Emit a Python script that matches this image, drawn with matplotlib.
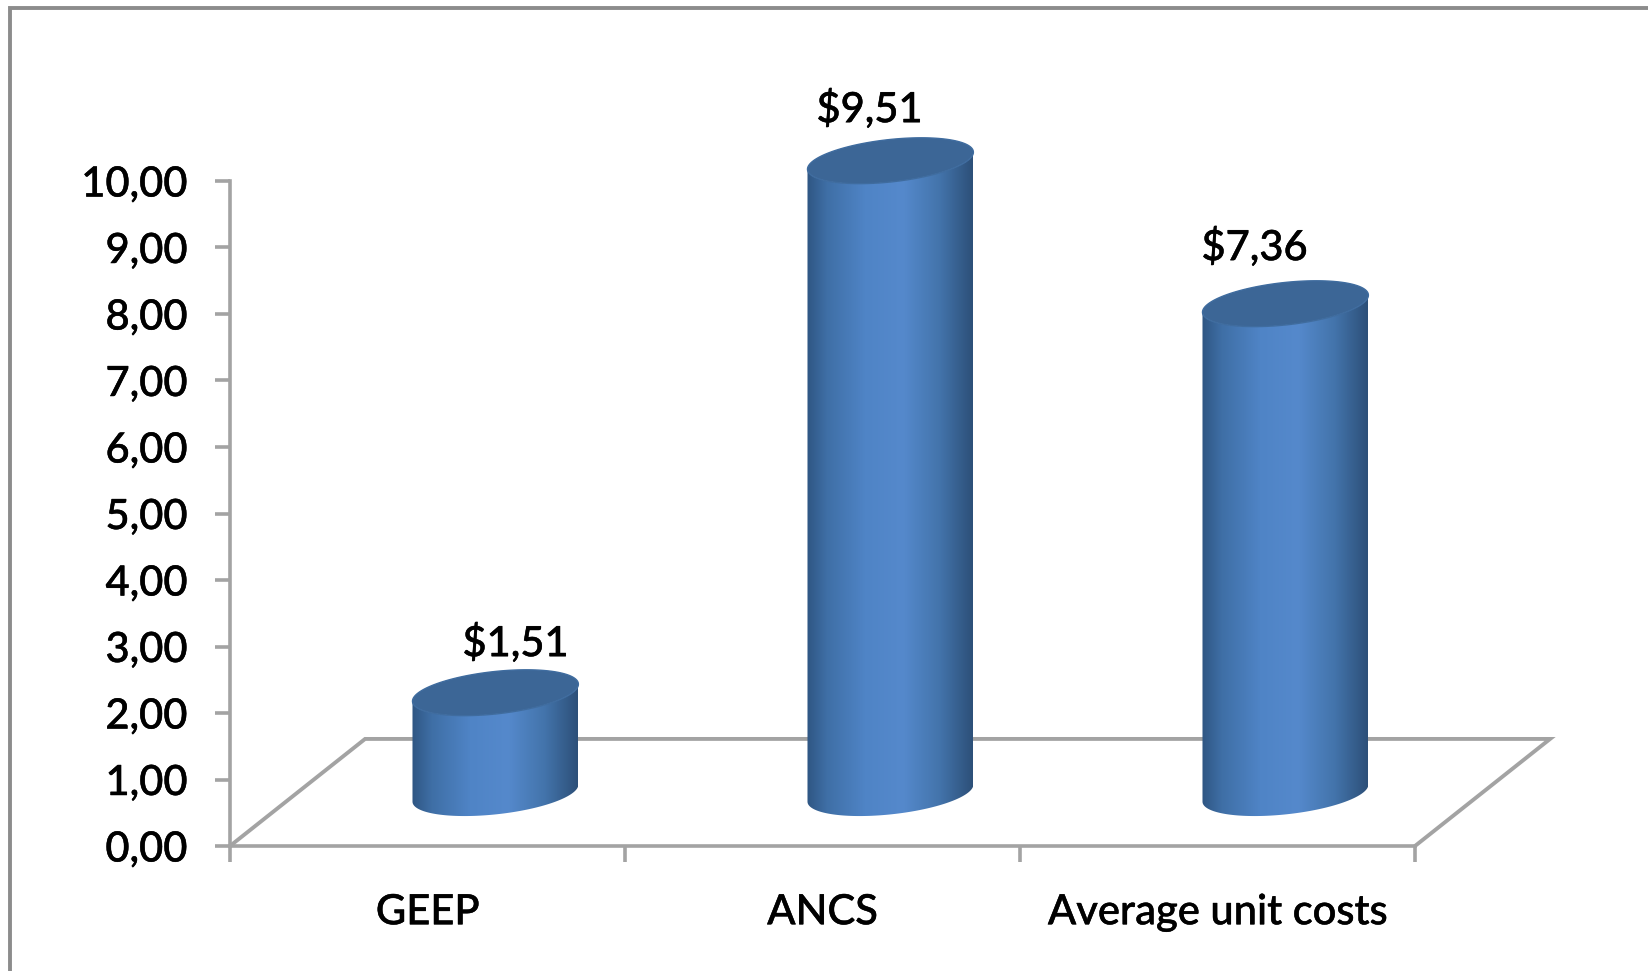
import matplotlib
matplotlib.use('Agg')
import matplotlib.pyplot as plt
import matplotlib.patheffects as pe
import numpy as np
from matplotlib.patches import PathPatch, Polygon, Rectangle
from matplotlib.path import Path

categories = ['GEEP', 'ANCS', 'Average unit costs']
costs = [1.51, 9.51, 7.36]
value_labels = ['$1,51', '$9,51', '$7,36']
y_ticks = [0, 1, 2, 3, 4, 5, 6, 7, 8, 9, 10]
y_tick_labels = ['0,00', '1,00', '2,00', '3,00', '4,00', '5,00', '6,00', '7,00', '8,00', '9,00', '10,00']

plt.rcParams['font.family'] = ['Lato', 'DejaVu Sans']
plt.rcParams['font.weight'] = 500

W, H = 1648, 971
fig = plt.figure(figsize=(W / 100, H / 100), dpi=100)
ax = fig.add_axes([230 / W, 1 - 846 / H, (1415 - 230) / W, (846 - 181) / H])
ax.set_xlim(-0.5, 2.5)
ax.set_ylim(0, 10)

GREY = '#a3a3a3'
# thickens the text a little, the original labels are heavy
heavy = [pe.withStroke(linewidth=0.35, foreground='black')]

# outer frame of the picture
fig.add_artist(Rectangle((10 / W, -0.05), 1.1, 1 - 8 / H + 0.05, transform=fig.transFigure,
                         fill=False, ec='#8c8c8c', lw=2.8))

for s in ['top', 'right']:
    ax.spines[s].set_visible(False)
for s in ['left', 'bottom']:
    ax.spines[s].set_color(GREY)
    ax.spines[s].set_linewidth(2.6)

ax.set_yticks(y_ticks)
ax.set_yticklabels(y_tick_labels, fontsize=30, color='black', path_effects=heavy)
ax.tick_params(axis='y', length=10.5, width=2.6, color=GREY, pad=20)

# ticks between the categories, labels in the middle
ax.set_xticks([-0.5, 0.5, 1.5, 2.5])
ax.set_xticklabels([])
ax.set_xticks([0, 1, 2], minor=True)
ax.set_xticklabels(categories, minor=True, fontsize=30, color='black', path_effects=heavy)
ax.tick_params(axis='x', which='major', length=11.5, width=2.6, color=GREY)
ax.tick_params(axis='x', which='minor', length=0, pad=34)

# floor of the 3d chart
depth_x = 0.342
depth_y = 1.61
ax.plot([-0.5, -0.5 + depth_x, 2.5 + depth_x, 2.5], [0, depth_y, depth_y, 0],
        color=GREY, lw=2.8, clip_on=False, zorder=1, solid_joinstyle='miter')

# cylinder shape
half_w = 0.21
shift_x = 0.172
base_y = 0.795
tilt = 0.128
minor_h = 0.32

stops = [0.0, 0.12, 0.35, 0.58, 0.8, 1.0]
stop_cols = ['#2f5683', '#3f6fa6', '#4f84c6', '#5589cc', '#4374ab', '#2d5079']
rgb = np.array([matplotlib.colors.to_rgb(c) for c in stop_cols])
xs = np.linspace(0, 1, 256)
gradient = np.stack([np.interp(xs, stops, rgb[:, i]) for i in range(3)], axis=1)[None, :, :]

t_front = np.linspace(np.pi, 2 * np.pi, 80)
t_all = np.linspace(0, 2 * np.pi, 160)


def ring(cx, cy, t):
    return np.column_stack([cx + half_w * np.cos(t), cy + minor_h * np.sin(t) + tilt * np.cos(t)])


for i, v in enumerate(costs):
    cx = i + shift_x
    bottom = ring(cx, base_y, t_front)
    top = ring(cx, base_y + v, t_front)[::-1]
    verts = np.vstack([bottom, top, bottom[:1]])
    body = Path(verts, closed=True)
    patch = PathPatch(body, transform=ax.transData, fc='none', ec='none')
    ax.add_patch(patch)
    patch.set_clip_on(False)
    low, high = base_y - 0.5, base_y + v + 0.5
    im = ax.imshow(gradient, extent=[cx - half_w, cx + half_w, low, high], aspect='auto',
                   zorder=2, interpolation='bilinear')
    im.set_clip_path(patch)
    im.set_clip_box(fig.bbox)
    lid = Polygon(ring(cx, base_y + v, t_all), closed=True, fc='#3c6696', ec='#3f6c9f', lw=1,
                  clip_on=False, zorder=3)
    ax.add_patch(lid)

# imshow resets the limits
ax.set_xlim(-0.5, 2.5)
ax.set_ylim(0, 10)

label_shift = [(20, 50), (-21, 52), (-31, 57)]
for i, v in enumerate(costs):
    dx, dy = label_shift[i]
    ax.annotate(value_labels[i], (i + shift_x, base_y + v), xytext=(dx * 0.72, dy * 0.72),
                textcoords='offset points', ha='center', va='center', fontsize=30,
                color='black', annotation_clip=False, zorder=4, path_effects=heavy)

fig.savefig('out.png', dpi=100)
